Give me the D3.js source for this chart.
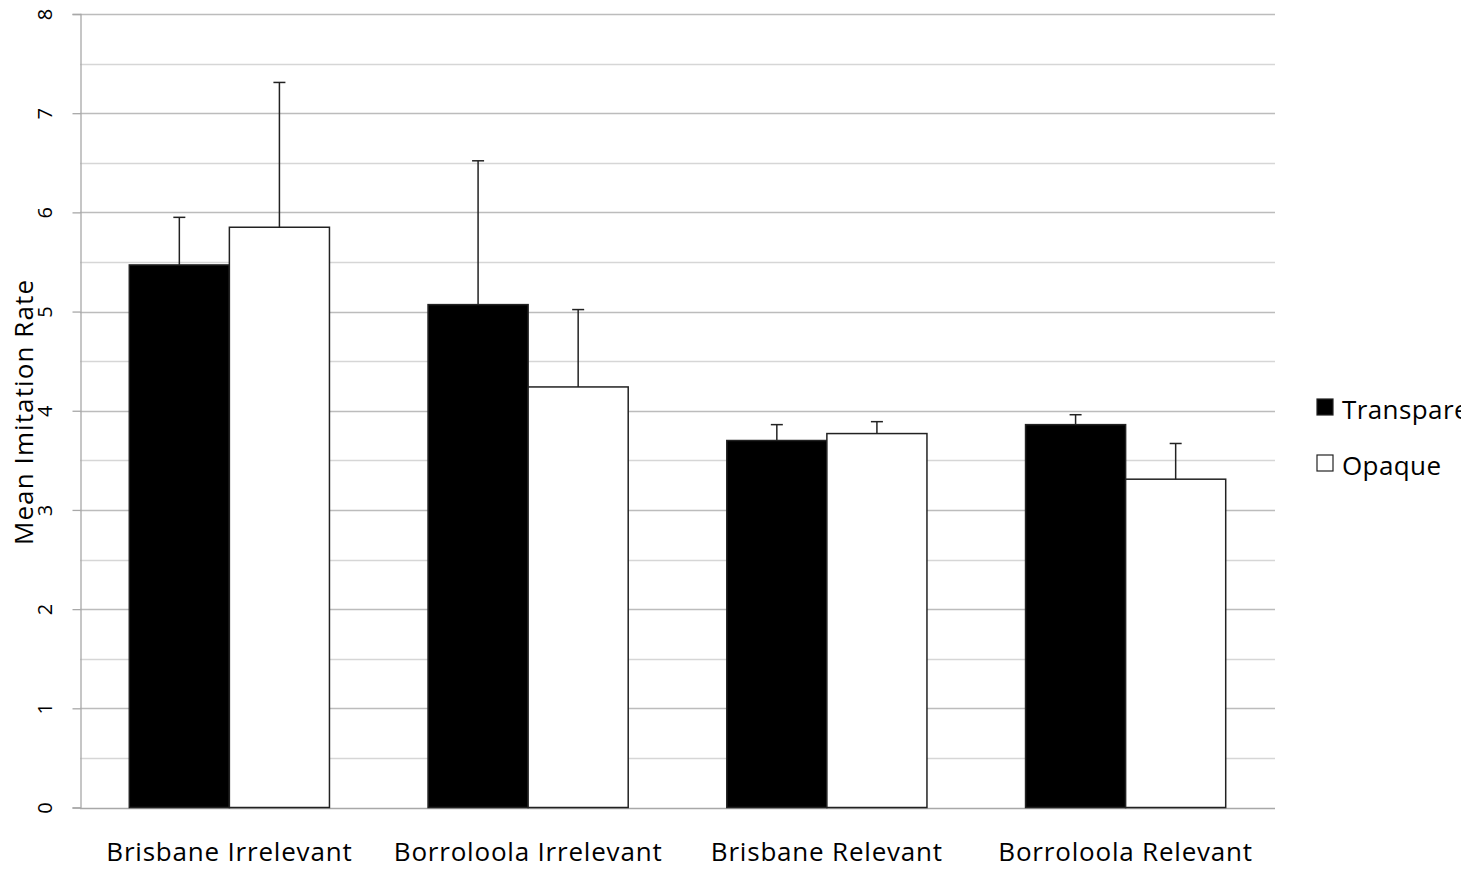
<!DOCTYPE html>
<html>
<head>
<meta charset="utf-8">
<script src="https://cdn.jsdelivr.net/npm/d3@7"></script>
<style>
  html, body { margin: 0; padding: 0; background: #fff; }
  svg { display: block; }
  text { font-family: "Open Sans", "Noto Sans", sans-serif; fill: #000; }
</style>
</head>
<body>
<svg id="chart" width="1461" height="870"></svg>
<script>
// Groups along the x axis
const categories = ["Brisbane Irrelevant", "Borroloola Irrelevant", "Brisbane Relevant", "Borroloola Relevant"];
// Series names
const seriesNames = ["Transparent", "Opaque"];
// Mean imitation rates per group
const transparentMeans = [5.47, 5.07, 3.70, 3.86];
const opaqueMeans = [5.85, 4.24, 3.77, 3.31];
// Upper error bar lengths
const transparentErr = [0.48, 1.45, 0.16, 0.10];
const opaqueErr = [1.46, 0.78, 0.12, 0.36];
// Y axis ticks
const yTicks = [0, 1, 2, 3, 4, 5, 6, 7, 8];
const yGrid = [0.5, 1, 1.5, 2, 2.5, 3, 3.5, 4, 4.5, 5, 5.5, 6, 6.5, 7, 7.5, 8];

const svg = d3.select("#chart");
const m = { left: 80, right: 1275, top: 14, bottom: 807.5 };

const x = d3.scaleBand().domain(categories).range([m.left, m.right]).paddingInner(0.33).paddingOuter(0.165);
const xs = d3.scaleBand().domain(seriesNames).range([0, x.bandwidth()]);
const y = d3.scaleLinear().domain([0, 8]).range([m.bottom, m.top]);

// Horizontal gridlines (major at whole numbers, lighter at halves)
svg.append("g").selectAll("line").data(yGrid).join("line")
  .attr("x1", m.left).attr("x2", m.right)
  .attr("y1", d => Math.round(y(d)) + 0.5).attr("y2", d => Math.round(y(d)) + 0.5)
  .attr("stroke", d => Number.isInteger(d) ? "#bcbcbc" : "#d6d6d6")
  .attr("stroke-width", 1.3);

// Y axis
const yAxis = svg.append("g").attr("transform", `translate(${m.left + 0.5},0)`)
  .call(d3.axisLeft(y).tickValues(yTicks).tickSize(8).tickFormat(d3.format("d")));
yAxis.select(".domain").attr("stroke", "#a8a8a8").attr("stroke-width", 1.3);
yAxis.selectAll(".tick line").attr("stroke", "#a8a8a8").attr("stroke-width", 1.3);
yAxis.selectAll(".tick text")
  .attr("font-size", 20).attr("font-family", "Open Sans, sans-serif").attr("fill", "#000")
  .attr("x", 0).attr("y", 0).attr("dy", null)
  .attr("text-anchor", "middle").attr("dominant-baseline", "central")
  .attr("transform", "translate(-36,0) rotate(-90)");

// Bottom baseline
svg.append("line").attr("x1", m.left).attr("x2", m.right)
  .attr("y1", Math.round(m.bottom) + 0.5).attr("y2", Math.round(m.bottom) + 0.5)
  .attr("stroke", "#a8a8a8").attr("stroke-width", 1.3);

// Bars
const rows = categories.map((c, i) => ({
  cat: c,
  vals: [
    { s: "Transparent", v: transparentMeans[i], e: transparentErr[i] },
    { s: "Opaque", v: opaqueMeans[i], e: opaqueErr[i] }
  ]
}));
const groups = svg.append("g").selectAll("g").data(rows).join("g")
  .attr("transform", d => `translate(${x(d.cat)},0)`);

groups.selectAll("rect").data(d => d.vals).join("rect")
  .attr("x", d => xs(d.s)).attr("width", xs.bandwidth())
  .attr("y", d => y(d.v)).attr("height", d => y(0) - y(d.v))
  .attr("fill", d => d.s === "Transparent" ? "#000" : "#fff")
  .attr("stroke", "#222").attr("stroke-width", 1.5);

// Upper error bars
const eb = groups.selectAll("g.err").data(d => d.vals).join("g").attr("class", "err");
eb.append("line")
  .attr("x1", d => xs(d.s) + xs.bandwidth() / 2).attr("x2", d => xs(d.s) + xs.bandwidth() / 2)
  .attr("y1", d => y(d.v)).attr("y2", d => y(d.v + d.e))
  .attr("stroke", "#222").attr("stroke-width", 1.5);
eb.append("line")
  .attr("x1", d => xs(d.s) + xs.bandwidth() / 2 - 6).attr("x2", d => xs(d.s) + xs.bandwidth() / 2 + 6)
  .attr("y1", d => y(d.v + d.e)).attr("y2", d => y(d.v + d.e))
  .attr("stroke", "#222").attr("stroke-width", 1.5);

// Category labels
svg.append("g").selectAll("text").data(categories).join("text")
  .attr("x", d => x(d) + x.bandwidth() / 2).attr("y", 861)
  .attr("text-anchor", "middle").attr("font-size", 26).attr("letter-spacing", 0.8)
  .text(d => d);

// Y axis title
svg.append("text")
  .attr("transform", "translate(33,412) rotate(-90)")
  .attr("text-anchor", "middle").attr("font-size", 26).attr("letter-spacing", 1.1)
  .text("Mean Imitation Rate");

// Legend
const legend = svg.append("g").selectAll("g").data(seriesNames).join("g")
  .attr("transform", (d, i) => `translate(1317,${399 + i * 56})`);
legend.append("rect").attr("width", 16).attr("height", 16)
  .attr("fill", d => d === "Transparent" ? "#000" : "#fff")
  .attr("stroke", "#222").attr("stroke-width", 1.2);
legend.append("text").attr("x", 25).attr("y", 20).attr("font-size", 26).attr("letter-spacing", 0.4).text(d => d);
</script>
</body>
</html>
